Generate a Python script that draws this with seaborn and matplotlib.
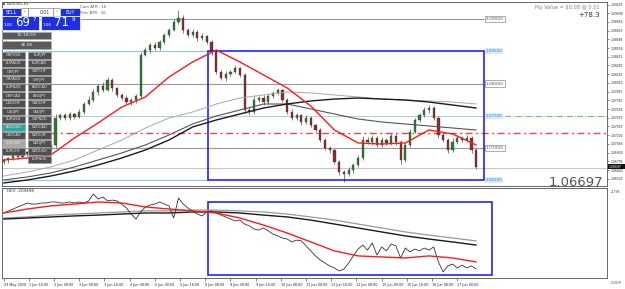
import numpy as np
import pandas as pd
import seaborn as sns
import matplotlib.pyplot as plt
from matplotlib.patches import Rectangle

W, H = 625, 289

# ---- price data (EURUSD, one candle = 3 hours) ----
first_open = 1.0678
closes = [1.0681, 1.0684, 1.0689, 1.0686, 1.0694, 1.0691, 1.0697, 1.0694, 1.0700, 1.0697,
          1.0705, 1.0747, 1.0751, 1.0747, 1.0753, 1.0748, 1.0756, 1.0768, 1.0775, 1.0787,
          1.0796, 1.0790, 1.0806, 1.0793, 1.0782, 1.0778, 1.0771, 1.0775, 1.0781, 1.0844,
          1.0852, 1.0860, 1.0855, 1.0864, 1.0875, 1.0883, 1.0895, 1.0902, 1.0883, 1.0875,
          1.0880, 1.0871, 1.0874, 1.0864, 1.0849, 1.0818, 1.0809, 1.0815, 1.0818, 1.0824,
          1.0813, 1.0759, 1.0756, 1.0775, 1.0778, 1.0771, 1.0781, 1.0785, 1.0790, 1.0775,
          1.0756, 1.0747, 1.0751, 1.0740, 1.0747, 1.0736, 1.0728, 1.0713, 1.0700, 1.0697,
          1.0678, 1.0663, 1.0660, 1.0666, 1.0674, 1.0685, 1.0713, 1.0710, 1.0716, 1.0705,
          1.0713, 1.0708, 1.0719, 1.0710, 1.0681, 1.0705, 1.0725, 1.0743, 1.0751, 1.0759,
          1.0762, 1.0747, 1.0721, 1.0713, 1.0697, 1.0710, 1.0716, 1.0713, 1.0716, 1.0697,
          1.0670]
upper_wick_pips = [3, 2, 4, 2, 3, 2, 3, 2, 4, 3,
                   2, 6, 3, 4, 3, 2, 4, 3, 5, 4,
                   3, 6, 4, 3, 2, 3, 4, 2, 3, 5,
                   4, 3, 5, 3, 4, 3, 5, 12, 4, 3,
                   5, 3, 4, 2, 3, 4, 3, 5, 3, 4,
                   2, 3, 4, 8, 3, 5, 3, 4, 3, 2,
                   3, 4, 3, 2, 4, 3, 2, 3, 2, 3,
                   2, 3, 3, 4, 3, 4, 5, 4, 5, 3,
                   4, 3, 5, 3, 3, 4, 5, 4, 3, 4,
                   5, 3, 3, 4, 3, 5, 4, 3, 4, 3,
                   3]
lower_wick_pips = [3, 4, 2, 3, 2, 4, 3, 3, 2, 3,
                   4, 5, 4, 3, 4, 3, 2, 3, 2, 3,
                   4, 3, 2, 4, 3, 3, 2, 4, 5, 3,
                   2, 4, 3, 3, 2, 3, 2, 3, 4, 3,
                   3, 5, 4, 3, 4, 3, 4, 5, 3, 2,
                   3, 5, 4, 3, 3, 4, 3, 3, 2, 4,
                   3, 4, 3, 5, 3, 4, 3, 4, 3, 4,
                   3, 4, 13, 3, 4, 3, 4, 3, 5, 3,
                   4, 3, 3, 6, 5, 3, 3, 2, 3, 3,
                   4, 4, 5, 3, 4, 3, 3, 4, 3, 4,
                   3]

# moving averages, sampled every 15 hours
ma_hours = list(range(0, 301, 15))
ma_fast = [1.06815, 1.06846, 1.06893, 1.07156, 1.07389, 1.07636, 1.07792, 1.08102, 1.08334, 1.08520,
           1.08334, 1.08133, 1.07931, 1.07652, 1.07280, 1.07079, 1.07063, 1.07079, 1.07280, 1.07218, 1.07048]
ma_slow = [1.06459, 1.06505, 1.06567, 1.06645, 1.06738, 1.06846, 1.06970, 1.07125, 1.07327, 1.07435,
           1.07528, 1.07621, 1.07683, 1.07730, 1.07760, 1.07776, 1.07760, 1.07745, 1.07714, 1.07667, 1.07621]
ma_mid = [1.06505, 1.06552, 1.06614, 1.06707, 1.06815, 1.06924, 1.07048, 1.07203, 1.07373, 1.07497,
          1.07590, 1.07683, 1.07683, 1.07606, 1.07528, 1.07451, 1.07404, 1.07373, 1.07342, 1.07311, 1.07280]
ma_light = [1.06567, 1.06629, 1.06707, 1.06815, 1.06970, 1.07125, 1.07311, 1.07466, 1.07559, 1.07683,
            1.07776, 1.07823, 1.07869, 1.07854, 1.07823, 1.07792, 1.07760, 1.07745, 1.07730, 1.07714, 1.07683]

# lower indicator (thousands)
osc = [9.6, 10.6, 11.5, 12.5, 13.4, 14.4, 13.9, 13.9, 14.4, 14.4,
       14.9, 14.9, 14.4, 14.4, 14.9, 14.4, 14.9, 14.4, 15.4, 18.7,
       16.3, 17.3, 15.4, 15.8, 15.4, 13.9, 12.0, 9.1, 6.7, 10.1,
       12.5, 13.4, 13.9, 14.9, 13.9, 13.0, 7.2, 16.8, 13.9, 12.0,
       10.6, 9.1, 8.2, 10.1, 10.6, 9.6, 8.6, 7.7, 6.7, 5.8,
       6.2, 4.3, 3.4, 1.9, 1.4, 2.4, 1.0, -0.5, -1.4, -2.4,
       -2.9, -4.3, -3.4, -3.8, -6.2, -8.6, -11.0, -13.0, -14.4, -15.8,
       -16.8, -18.2, -17.3, -14.4, -11.0, -7.7, -5.8, -8.2, -4.8, -10.6,
       -6.7, -8.6, -5.3, -6.2, -12.0, -7.2, -9.1, -7.7, -8.6, -7.2,
       -8.2, -6.7, -13.9, -18.7, -15.8, -14.9, -16.8, -15.4, -16.8, -15.8,
       -17.3]
osc_fast = [9.6, 11.5, 13.0, 13.9, 14.9, 14.4, 12.5, 11.5, 10.6, 9.6, 7.2,
            3.8, 0.0, -4.3, -8.6, -11.0, -11.5, -12.0, -11.0, -12.0, -13.9]
osc_slow = [6.7, 7.2, 7.7, 8.2, 8.6, 9.1, 9.6, 9.6, 10.1, 10.1, 9.6,
            8.6, 7.7, 6.2, 4.3, 2.4, 0.5, -1.4, -2.9, -4.3, -5.8]
osc_mid = [7.2, 7.7, 8.6, 9.1, 9.6, 10.1, 10.6, 10.6, 11.0, 11.0, 10.6,
           10.1, 9.1, 7.7, 6.2, 4.3, 2.4, 0.5, -1.0, -2.4, -3.8]

tick_hours = list(range(0, 289, 16))
tick_labels = ["29 May 2020", "1 Jun 16:00", "2 Jun 08:00", "3 Jun 00:00", "3 Jun 16:00",
               "4 Jun 08:00", "5 Jun 00:00", "5 Jun 16:00", "8 Jun 08:00", "9 Jun 00:00",
               "9 Jun 16:00", "10 Jun 08:00", "11 Jun 00:00", "11 Jun 16:00", "12 Jun 08:00",
               "15 Jun 00:00", "15 Jun 16:00", "16 Jun 08:00", "17 Jun 00:00"]

grey_levels = [1.09, 1.08, 1.07]
box_top, box_bottom = 1.085, 1.065
box_start, box_end = 130, 305
green_level = 1.075
red_level = 1.0723
last_price = 1.06697

left_buttons = ["GBPUSD", "EURAUD", "GBPJPY", "GBPAUD", "EURNZD", "GBPCAD", "USDCHF",
                "USDJPY", "EURUSD", "AUDUSD", "USDCAD", "EURGBP", "EURCHF", ""]
right_buttons = ["EURJPY", "EURCAD", "GBPCHF", "CHFJPY", "AUDCAD", "AUDJPY", "CADCHF",
                 "CADJPY", "GBPNZD", "NZDCAD", "NZDCHF", "NZDJPY", "NZDUSD", "EURNOK"]

sns.set_style("white")
plt.rcParams['font.family'] = ['DejaVu Sans']

fig = plt.figure(figsize=(W / 100, H / 100), dpi=100)
ax = fig.add_axes([2 / W, 1 - 186 / H, 605 / W, 184 / H])
ax2 = fig.add_axes([2 / W, 1 - 278 / H, 605 / W, 90 / H], sharex=ax)

# candles
df = pd.DataFrame({"hour": np.arange(len(closes)) * 3,
                   "open": [first_open] + closes[:-1], "close": closes,
                   "up": upper_wick_pips, "dn": lower_wick_pips})
df["top"] = df[["open", "close"]].max(axis=1)
df["bot"] = df[["open", "close"]].min(axis=1)
df["high"] = df["top"] + df["up"] * 1e-4
df["low"] = df["bot"] - df["dn"] * 1e-4
bull = df["close"] >= df["open"]
ax.vlines(df["hour"], df["low"], df["high"], color="#3a3a3a", lw=0.45, zorder=3)
ax.bar(df["hour"], (df["top"] - df["bot"]).clip(lower=0.00005), bottom=df["bot"], width=1.4,
       color=np.where(bull, "#2e7d32", "#8e2b2b"), edgecolor="#333333", linewidth=0.25, zorder=4)

# levels
for lv in grey_levels:
    ax.hlines(lv, 0, box_end, color="#9a9a9a", lw=0.8, zorder=1)
    ax.text(box_end + 1, lv, f"{lv:.5f}", fontsize=3.2, color="#555555", va="center", ha="left",
            bbox=dict(boxstyle="square,pad=0.25", fc="white", ec="#8a8a8a", lw=0.5))
ax.hlines([box_top, box_bottom], 0, box_start, color="#8cc4f0", lw=0.8, zorder=1)
ax.hlines(green_level, 0, box_end, color="#a6d4e6", lw=0.7, zorder=1)
ax.hlines(green_level, box_end, 390, color="#5cc85c", lw=0.7, linestyles="dashdot", zorder=1)
ax.hlines(red_level, -1, 390, colors="#ff0000", lw=1.0, linestyles=(0, (5, 2.5, 1.5, 2.5)),
          alpha=0.75, zorder=2)
ax.axhline(last_price, color="#c8c8c8", lw=0.8, zorder=1)
for lv in [box_top, green_level, box_bottom]:
    ax.text(box_end + 1, lv, f"{lv:.5f}", fontsize=3.0, color="#3c7fd6", va="center", ha="left",
            bbox=dict(boxstyle="square,pad=0.2", fc="#d6eaff", ec="none"))
ax.add_patch(Rectangle((box_start, box_bottom), box_end - box_start, box_top - box_bottom,
                       fill=False, ec="#1010ff", lw=1.1, zorder=5))

# moving averages
sns.lineplot(x=ma_hours, y=ma_light, ax=ax, color="#a8a8a8", lw=0.7, zorder=5)
sns.lineplot(x=ma_hours, y=ma_mid, ax=ax, color="#555555", lw=0.8, zorder=5)
sns.lineplot(x=ma_hours, y=ma_slow, ax=ax, color="#1a1a1a", lw=1.0, zorder=5)
sns.lineplot(x=ma_hours, y=ma_fast, ax=ax, color="#ff1a1a", lw=1.0, zorder=6)

ax.set_xlim(-1, 383)
ax.set_ylim(1.06412, 1.09264)
ax.yaxis.tick_right()
ax.set_yticks(np.arange(1.06525, 1.0923, 0.00135))
ax.yaxis.set_major_formatter(plt.FormatStrFormatter("%.5f"))
ax.tick_params(axis="y", labelsize=2.2, length=1.5, width=0.4, pad=1, right=True)
ax.tick_params(axis="x", bottom=False, labelbottom=False)
ax.set_xlabel("")
ax.set_ylabel("")

# lower panel
bar_hours = list(np.arange(len(osc)) * 3)
sns.lineplot(x=ma_hours, y=osc_mid, ax=ax2, color="#999999", lw=0.9)
sns.lineplot(x=ma_hours, y=osc_slow, ax=ax2, color="#1a1a1a", lw=1.0)
sns.lineplot(x=bar_hours, y=osc, ax=ax2, color="#333333", lw=0.6)
sns.lineplot(x=ma_hours, y=osc_fast, ax=ax2, color="#ff1a1a", lw=1.0)
ax2.add_patch(Rectangle((box_start, -20.2), 310 - box_start, 35.1, fill=False, ec="#1010ff", lw=1.1))
ax2.set_ylim(-21.6, 21.6)
ax2.set_yticks([])
ax2.set_xticks(tick_hours)
ax2.set_xticklabels(tick_labels, fontsize=2.4, ha="left")
ax2.tick_params(axis="x", length=2, width=0.4, pad=1.5, bottom=True)
ax2.set_xlabel("")
ax2.set_ylabel("")
ax2.text(2, 20.0, "DEV -209498", fontsize=3.0, color="#333333", va="center")

for a in (ax, ax2):
    for s in a.spines.values():
        s.set_color("#505050")
        s.set_linewidth(0.6)


def fx(x):
    return x / W


def fy(y):
    return 1 - y / H


def box(x, y, w, h, fc, ec="white", lw=0.5):
    fig.add_artist(Rectangle((fx(x), fy(y + h)), w / W, h / H, transform=fig.transFigure,
                             fc=fc, ec=ec, lw=lw, zorder=10))


def label(x, y, s, size, color, ha="center", **kw):
    fig.text(fx(x), fy(y), s, fontsize=size, color=color, ha=ha, va="center", zorder=11, **kw)


# texts on the chart
label(7, 4, "EURUSD,H1", 2.8, "#333333", ha="left")
box(2, 2, 3, 3, "#666666", ec="none")
label(80, 7, "Cam ATR : 16", 2.8, "#555555", ha="left")
label(80, 13, "Prev ATR : 16", 2.8, "#555555", ha="left")
label(600, 7, "Pip Value = $0.08 @ 0.01", 3.6, "#808080", ha="right")
label(600, 15, "+78.3", 5.0, "#333333", ha="right")
label(603, 182, "1.06697", 9.5, "#555555", ha="right")
box(608, 164, 17, 5, "#111111", ec="none")
label(609, 166.5, "1.06697", 2.2, "white", ha="left")
label(611, 192, "21795", 2.2, "#333333", ha="left")
label(611, 283, "-21079", 2.2, "#333333", ha="left")

# one-click trading panel
blue = "#1d2fe2"
box(2, 8, 19, 8, blue)
label(11.5, 12, "SELL", 3.3, "white")
box(21, 8, 7, 8, "white", ec="#888888")
label(24.5, 12, "-", 3.3, "#333333")
box(28, 8, 25, 8, "white", ec="#888888")
label(50, 12, "0.01", 3.3, "#333333", ha="right")
box(53, 8, 7, 8, "white", ec="#888888")
label(56.5, 12, "-", 3.3, "#333333")
box(60, 8, 20, 8, blue)
label(70, 12, "BUY", 3.3, "white")
box(2, 16, 37, 14, blue)
box(41, 16, 39, 14, blue)
label(4, 25, "1.06", 3.0, "white", ha="left")
label(15, 23, "69", 8.5, "white", ha="left")
label(33, 19.5, "7", 4.0, "white", ha="left")
label(43, 25, "1.06", 3.0, "white", ha="left")
label(54, 23, "71", 8.5, "white", ha="left")
label(72, 19.5, "9", 4.0, "white", ha="left")
box(2, 32, 49, 7, "#5a5a5a", ec="#b0b0b0")
label(26.5, 35.5, "15:18:59", 3.2, "#eeeeee")
box(2, 41, 49, 8, "#5a5a5a", ec="#b0b0b0")
label(26.5, 45, "$6.96", 3.2, "#eeeeee")
for r, (lb, rb) in enumerate(zip(left_buttons, right_buttons)):
    y = 52 + 8 * r
    if lb:
        fc = "#2aa7a0" if lb == "AUDUSD" else ("#a8a8a8" if lb == "EURGBP" else "#4f4f4f")
        box(2, y, 23, 7, fc, ec="#9a9a9a", lw=0.4)
        label(13.5, y + 3.5, lb, 2.6, "#e8e8e8")
    box(28, y, 23, 7, "#4f4f4f", ec="#9a9a9a", lw=0.4)
    label(39.5, y + 3.5, rb, 2.6, "#e8e8e8")

fig.savefig("out.png", dpi=100)
